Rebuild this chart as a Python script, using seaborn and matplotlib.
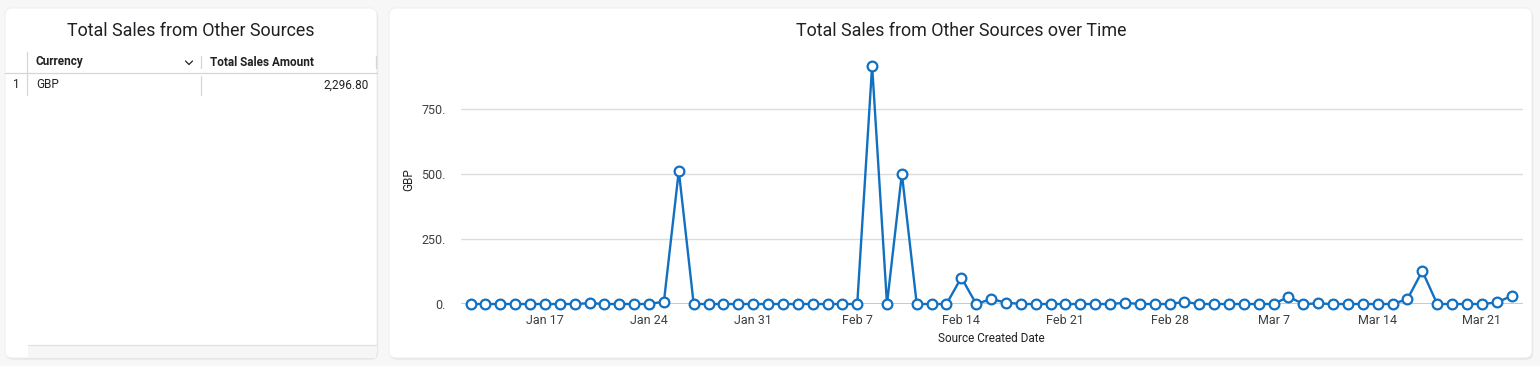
import numpy as np
import pandas as pd
import seaborn as sns
import matplotlib.pyplot as plt
import matplotlib.dates as mdates
from matplotlib.patches import FancyBboxPatch, Rectangle
from matplotlib.lines import Line2D
from matplotlib.ticker import FuncFormatter

# -------------------------
# Data
# -------------------------
dates = pd.date_range("2021-01-12", "2021-03-23", freq="D")

amounts = [
    0, 0, 0, 0, 0, 0, 0,            # Jan 12 - Jan 18
    0, 3, 0, 0, 0, 0, 9,            # Jan 19 - Jan 25
    513, 0, 0, 0, 0, 0, 0,          # Jan 26 - Feb 1
    0, 0, 0, 0, 0, 0, 918,          # Feb 2 - Feb 8
    0, 502, 0, 0, 0, 102, 0,        # Feb 9 - Feb 15
    19, 5.5, 0, 0, 0, 0, 0,         # Feb 16 - Feb 22
    0, 0, 4.5, 0, 0, 0, 8,          # Feb 23 - Mar 1
    0, 0, 0, 0, 0, 0, 28,           # Mar 2 - Mar 8
    0, 2, 0, 0, 0, 0, 0,            # Mar 9 - Mar 15
    19, 127, 0, 0, 0, 0, 5.8,       # Mar 16 - Mar 22
    31,                             # Mar 23
]

currencies = ["GBP"]
y_ticks = [0, 250, 500, 750]

df = pd.DataFrame({"date": dates, "amount": amounts})
total_sales = [2296.80]

# -------------------------
# Styling
# -------------------------
sns.set_style("white")
plt.rcParams["font.family"] = ["Roboto", "DejaVu Sans"]

BLUE = "#1170c0"
TXT = "#202124"
W, H = 1540, 366
DPI = 100

fig = plt.figure(figsize=(W / DPI, H / DPI), dpi=DPI)
fig.patch.set_facecolor("#f7f7f7")
tr = fig.dpi_scale_trans  # inches


def px(x, y):
    """pixel (from top-left) -> inches from bottom-left"""
    return x / DPI, (H - y) / DPI


def card(x0, y0, x1, y1):
    for off, col in [((0.012, -0.018), "#e9e9e9"), ((0.004, -0.006), "#e2e2e2")]:
        a, b = px(x0, y1)
        sh = FancyBboxPatch((a + off[0], b + off[1]), (x1 - x0) / DPI, (y1 - y0) / DPI,
                            boxstyle="round,pad=0,rounding_size=0.07",
                            transform=tr, facecolor=col, edgecolor="none", zorder=-3)
        fig.patches.append(sh)
    a, b = px(x0, y1)
    p = FancyBboxPatch((a, b), (x1 - x0) / DPI, (y1 - y0) / DPI,
                       boxstyle="round,pad=0,rounding_size=0.07",
                       transform=tr, facecolor="white", edgecolor="#ededed",
                       linewidth=0.6, zorder=-2)
    fig.patches.append(p)


card(5, 8, 377, 358)
card(389, 8, 1532, 358)


def hline(x0, x1, y, color="#d6d6d6", lw=0.9):
    a0, b = px(x0, y)
    a1, _ = px(x1, y)
    fig.lines.append(Line2D([a0, a1], [b, b], transform=tr, color=color, lw=lw, zorder=2))


def vline(x, y0, y1, color="#d6d6d6", lw=0.9):
    a, b0 = px(x, y0)
    _, b1 = px(x, y1)
    fig.lines.append(Line2D([a, a], [b0, b1], transform=tr, color=color, lw=lw, zorder=2))


def ftext(x, y, s, **kw):
    a, b = px(x, y)
    fig.text(a, b, s, transform=tr, **kw)


# -------------------------
# Left card: table
# -------------------------
ftext(191, 31, "Total Sales from Other Sources", ha="center", va="center",
      fontsize=12.9, color=TXT)

hline(5, 377, 73)
vline(27, 52, 95)
vline(201, 56, 68)
vline(201, 76, 95)
vline(376, 56, 68)
ftext(36, 62, "Currency", ha="left", va="center", fontsize=8.5, fontweight="bold", color=TXT)
ftext(210, 62, "Total Sales Amount", ha="left", va="center", fontsize=8.5,
      fontweight="bold", color=TXT)
# sort chevron
c0, c1 = px(185.5, 61)
c2, c3 = px(189, 64.5)
c4, c5 = px(192.5, 61)
fig.lines.append(Line2D([c0, c2, c4], [c1, c3, c5], transform=tr, color=TXT, lw=0.9, zorder=2))

for i, (cur, tot) in enumerate(zip(currencies, total_sales)):
    yy = 85 + i * 22
    ftext(16, yy, str(i + 1), ha="center", va="center", fontsize=8.5, color=TXT)
    ftext(36, yy, cur, ha="left", va="center", fontsize=8.5, color=TXT)
    ftext(369, yy, f"{tot:,.2f}", ha="right", va="center", fontsize=8.5, color=TXT)

# scrollbar strip at the bottom
a, b = px(28, 358)
fig.patches.append(Rectangle((a, b), (376 - 28) / DPI, 13 / DPI, transform=tr,
                             facecolor="#f6f6f6", edgecolor="none", zorder=1))
hline(28, 377, 345, color="#e0e0e0")

# -------------------------
# Right card: line chart
# -------------------------
ftext(961, 31, "Total Sales from Other Sources over Time", ha="center", va="center",
      fontsize=12.9, color=TXT)

ax_l, ax_r = 460.7, 1522.7
ax_b, ax_t = 304, 57.4
ax = fig.add_axes([ax_l / W, (H - ax_b) / H, (ax_r - ax_l) / W, (ax_b - ax_t) / H])
ax.set_facecolor("none")
ax.set_zorder(5)

sns.lineplot(data=df, x="date", y="amount", ax=ax, color=BLUE, linewidth=1.7,
             marker="o", markersize=7, markerfacecolor="white",
             markeredgecolor=BLUE, markeredgewidth=1.6, clip_on=False, zorder=4)

ax.set_ylim(0, 950)
ax.set_yticks(y_ticks)
ax.yaxis.set_major_formatter(FuncFormatter(lambda v, p: f"{v:.0f}."))
ax.set_xlim(dates[0] - pd.Timedelta(hours=16), dates[-1] + pd.Timedelta(hours=18))
ax.xaxis.set_major_locator(mdates.WeekdayLocator(byweekday=mdates.SU))
ax.xaxis.set_major_formatter(mdates.DateFormatter("%b %-d"))

ax.grid(axis="y", color="#dadce0", linewidth=1)
ax.grid(axis="x", visible=False)
ax.axhline(0, color="#aac6ea", linewidth=1.2, zorder=2)
for s in ax.spines.values():
    s.set_visible(False)
ax.tick_params(axis="y", length=0, labelsize=9, labelcolor="#3c4043", pad=11)
ax.tick_params(axis="x", length=0, labelsize=9, labelcolor="#3c4043", pad=7)

ax.set_xlabel("Source Created Date", fontsize=8.5, color=TXT)
ax.set_ylabel("GBP", fontsize=8.5, color=TXT)
ax.xaxis.set_label_coords((991 - ax_l) / (ax_r - ax_l), -(332 - ax_b) / (ax_b - ax_t))
ax.yaxis.set_label_coords(-(ax_l - 415) / (ax_r - ax_l), (ax_b - 180) / (ax_b - ax_t))

plt.savefig("out.png", dpi=DPI, facecolor=fig.get_facecolor())
plt.close()
